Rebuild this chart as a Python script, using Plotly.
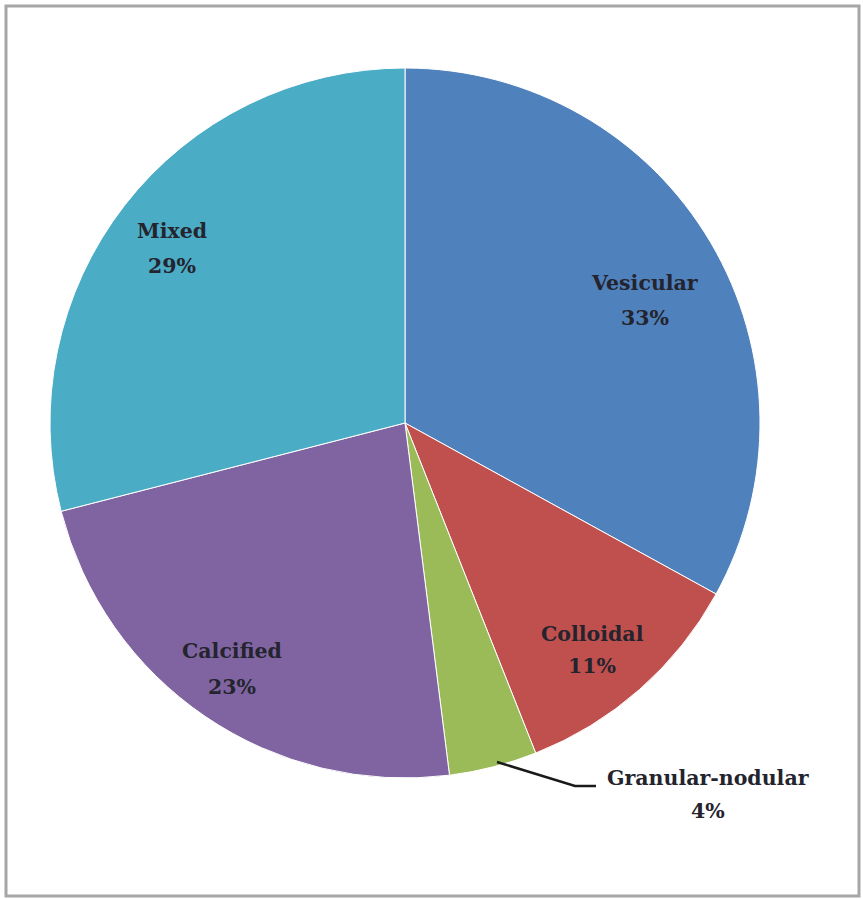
import plotly.graph_objects as go

categories = ["Vesicular", "Colloidal", "Granular-nodular", "Calcified", "Mixed"]
values = [33, 11, 4, 23, 29]
colors = ["#4F81BD", "#C0504D", "#9BBB59", "#8064A2", "#4BACC6"]

W, H = 863, 899
cx, cy, r = 405, 423, 355

fig = go.Figure(go.Pie(
    labels=categories, values=values, sort=False, direction="clockwise",
    rotation=0, marker=dict(colors=colors, line=dict(color="white", width=1)),
    textinfo="none", hoverinfo="label+percent", showlegend=False,
    domain=dict(x=[(cx - r) / W, (cx + r) / W], y=[1 - (cy + r) / H, 1 - (cy - r) / H]),
))

# (x, y of name line, y of percent line) in pixels
label_pos = {
    "Vesicular": (645, 283, 318),
    "Colloidal": (592, 634, 666),
    "Granular-nodular": (708, 778, 811),
    "Calcified": (232, 651, 687),
    "Mixed": (172, 231, 266),
}
total = sum(values)
font = dict(family="DejaVu Serif", size=20.5, color="#24242e", weight="bold")
for c, v in zip(categories, values):
    x, y1, y2 = label_pos[c]
    for txt, yy in ((c, y1), (f"{round(100 * v / total)}%", y2)):
        fig.add_annotation(x=x / W, y=1 - yy / H, xref="paper", yref="paper",
                           text=txt, showarrow=False, font=font,
                           xanchor="center", yanchor="middle")

# leader line for the small slice
fig.add_shape(type="path", xref="paper", yref="paper",
              path=f"M {497/W} {1-762/H} L {575/W} {1-786/H} L {596/W} {1-786/H}",
              line=dict(color="#1a1a1a", width=2.5))

# chart frame
fig.add_shape(type="rect", xref="paper", yref="paper",
              x0=6 / W, x1=859 / W, y0=1 - 896 / H, y1=1 - 6 / H,
              line=dict(color="#a6a6a6", width=3))

fig.update_layout(width=W, height=H, margin=dict(l=0, r=0, t=0, b=0),
                  paper_bgcolor="white", plot_bgcolor="white")
fig.write_html("out.html")
